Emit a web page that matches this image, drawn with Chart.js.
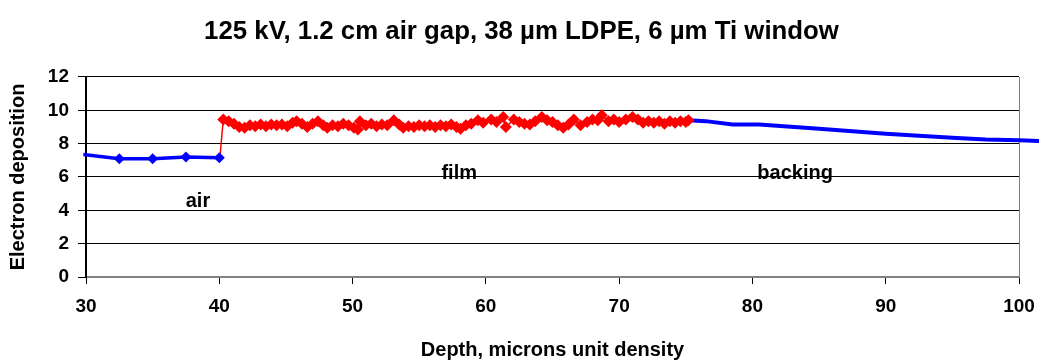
<!DOCTYPE html>
<html>
<head>
<meta charset="utf-8">
<script src="https://cdn.jsdelivr.net/npm/chart.js@4.4.1/dist/chart.umd.min.js"></script>
<style>
html, body { margin: 0; padding: 0; background: #fff; }
#wrap { width: 1039px; height: 360px; }
</style>
</head>
<body>
<div id="wrap"><canvas id="c" width="1039" height="360"></canvas></div>
<script>
// ---- data ----
const chartTitle = '125 kV, 1.2 cm air gap, 38 µm LDPE, 6 µm Ti window';
const xAxisTitle = 'Depth, microns unit density';
const yAxisTitle = 'Electron deposition';
const xTicks = [30, 40, 50, 60, 70, 80, 90, 100];
const yTicks = [0, 2, 4, 6, 8, 10, 12];

// air layer: line + diamond markers
const airDepth = [29.8, 32.5, 35.0, 37.5, 40.0];
const airDeposition = [7.35, 7.1, 7.1, 7.2, 7.15];
const airMarked = [false, true, true, true, true];

// film layer (red diamonds)
const filmDepth = [40.05, 40.3, 40.7, 41.1, 41.5, 41.9, 42.3, 42.7, 43.1, 43.5, 43.9, 44.3, 44.7, 45.1, 45.5, 45.8,
  46.2, 46.6, 47.0, 47.4, 47.8, 48.1, 48.5, 48.9, 49.3, 49.7, 50.1, 50.4, 50.55, 51.0, 51.4, 51.8, 52.2, 52.6,
  53.1, 53.5, 53.8, 54.2, 54.6, 55.0, 55.4, 55.8, 56.2, 56.6, 57.0, 57.4, 57.8, 58.1, 58.5, 58.9, 59.4, 59.8,
  60.4, 60.8, 61.3, 61.5, 62.1, 62.5, 62.9, 63.3, 63.7, 64.2, 64.6, 65.0, 65.4, 65.8, 66.2, 66.6, 67.1, 67.6,
  68.0, 68.4, 68.7, 69.2, 69.6, 70.0, 70.5, 71.0, 71.4, 71.8, 72.2, 72.6, 73.0, 73.4, 73.8, 74.2, 74.6, 75.0, 75.2];
const filmDeposition = [7.2, 9.45, 9.35, 9.2, 9.0, 8.95, 9.1, 9.05, 9.15, 9.05, 9.15, 9.1, 9.15, 9.05, 9.25, 9.35,
  9.2, 9.0, 9.2, 9.35, 9.1, 8.95, 9.1, 9.05, 9.2, 9.1, 8.95, 8.85, 9.35, 9.1, 9.2, 9.05, 9.15, 9.1,
  9.4, 9.15, 8.95, 9.05, 9.0, 9.1, 9.05, 9.1, 9.0, 9.1, 9.05, 9.15, 9.0, 8.9, 9.1, 9.2, 9.4, 9.25,
  9.45, 9.3, 9.6, 9.0, 9.45, 9.3, 9.2, 9.15, 9.35, 9.6, 9.4, 9.3, 9.1, 8.95, 9.15, 9.45, 9.1, 9.3,
  9.45, 9.4, 9.7, 9.35, 9.45, 9.3, 9.45, 9.6, 9.45, 9.25, 9.35, 9.25, 9.35, 9.2, 9.35, 9.25, 9.35, 9.3, 9.4];

// backing layer (blue line, no markers), listed from deepest to shallowest
const backingDepth = [101.8, 100.0, 97.5, 95.0, 90.0, 85.0, 80.5, 78.5, 76.5, 75.2];
const backingDeposition = [8.15, 8.2, 8.25, 8.35, 8.6, 8.9, 9.15, 9.15, 9.35, 9.4];

// region labels
const regionNames = ['air', 'film', 'backing'];
const regionDepth = [38.4, 58.0, 83.2];
const regionDeposition = [4.55, 6.2, 6.2];

const toXY = (xs, ys) => xs.map((x, i) => ({ x: x, y: ys[i] }));

const FONT = '"Liberation Sans", Arial, sans-serif';

const regionLabels = {
  id: 'regionLabels',
  afterDatasetsDraw(chart) {
    const { ctx, scales: { x, y } } = chart;
    ctx.save();
    ctx.font = 'bold 20px ' + FONT;
    ctx.fillStyle = '#000';
    ctx.textAlign = 'center';
    ctx.textBaseline = 'middle';
    regionNames.forEach((t, i) => {
      ctx.fillText(t, x.getPixelForValue(regionDepth[i]), y.getPixelForValue(regionDeposition[i]));
    });
    ctx.restore();
  }
};

new Chart(document.getElementById('c'), {
  type: 'scatter',
  data: {
    datasets: [
      {
        label: 'air markers',
        data: toXY(airDepth, airDeposition),
        showLine: true,
        borderColor: '#0000FF',
        backgroundColor: '#0000FF',
        borderWidth: 3.5,
        pointStyle: 'rectRot',
        pointRadius: ctx => airMarked[ctx.dataIndex] ? 5.5 : 0,
        pointBorderWidth: 0,
        clip: false
      },
      {
        label: 'film',
        data: toXY(filmDepth, filmDeposition),
        showLine: true,
        borderColor: '#FF0000',
        backgroundColor: '#FF0000',
        borderWidth: 1.5,
        pointStyle: 'rectRot',
        pointRadius: ctx => ctx.dataIndex === 0 ? 0 : 6,
        pointBorderWidth: 0
      },
      {
        label: 'backing',
        data: toXY(backingDepth, backingDeposition),
        showLine: true,
        borderColor: '#0000FF',
        borderWidth: 4,
        pointRadius: 0,
        clip: false
      }
    ]
  },
  options: {
    responsive: false,
    animation: false,
    devicePixelRatio: 1,
    layout: { padding: { left: 24, right: 20, top: 0, bottom: 0 } },
    plugins: {
      legend: { display: false },
      tooltip: { enabled: false },
      title: {
        display: true,
        text: chartTitle,
        color: '#000',
        font: { family: FONT, size: 25.8, weight: 'bold' },
        padding: { top: 16, bottom: 30 }
      }
    },
    scales: {
      x: {
        type: 'linear',
        min: 30, max: 100,
        afterBuildTicks: s => { s.ticks = xTicks.map(v => ({ value: v })); },
        afterFit: s => { s.height = 83; s.paddingLeft = 0; s.paddingRight = 0; },
        ticks: { color: '#000', font: { family: FONT, size: 19, weight: 'bold' }, padding: 11, maxRotation: 0 },
        grid: {
          color: c => (c.tick && c.tick.value === 100) ? '#808080' : 'rgba(0,0,0,0)',
          tickColor: '#000',
          tickLength: 7,
          lineWidth: 1
        },
        border: { color: '#808080', width: 2 },
        title: { display: true, text: xAxisTitle, color: '#000', font: { family: FONT, size: 20, weight: 'bold' }, padding: { top: 6, bottom: -2 } }
      },
      y: {
        type: 'linear',
        min: 0, max: 12,
        afterBuildTicks: s => { s.ticks = yTicks.map(v => ({ value: v })); },
        afterFit: s => { s.width = 62; },
        ticks: { color: '#000', font: { family: FONT, size: 19, weight: 'bold' }, padding: 9 },
        grid: { color: '#000', tickColor: '#000', tickLength: 8, lineWidth: 1 },
        border: { color: '#000', width: 2 },
        title: { display: true, text: yAxisTitle, color: '#000', font: { family: FONT, size: 20, weight: 'bold' }, padding: { top: -17.5, bottom: 4 } }
      }
    }
  },
  plugins: [regionLabels]
});
</script>
</body>
</html>
